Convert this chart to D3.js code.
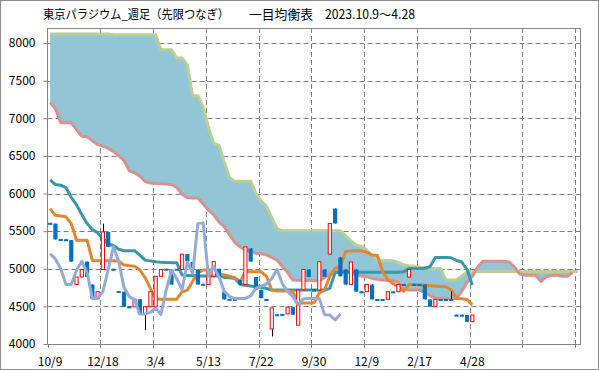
<!DOCTYPE html>
<html>
<head>
<meta charset="utf-8">
<script src="https://cdn.jsdelivr.net/npm/d3@7"></script>
<style>
  body { margin: 0; background: #fff; }
  svg { display: block; }
  text { font-family: "Noto Sans CJK JP", "Noto Sans", sans-serif; fill: #000; }
</style>
</head>
<body>
<svg id="chart"></svg>
<script>
// weekly bars, 2023.10.9 .. 2025.4.28 (81 weeks), chart runs 101 weeks
let tickLabels = ["10/9","12/18","3/4","5/13","7/22","9/30","12/9","2/17","4/28"];
let yTicks = [4000,4500,5000,5500,6000,6500,7000,7500,8000];

let openP  = [5610,5600,5395,5392,5380,4790,4890,5095,4790,4600,4990,5490,5000,4705,4695,4500,4495,4595,4395,4495,
              4495,4900,5000,4990,5000,4990,5195,5090,4990,4800,4790,4900,5000,4695,4600,4600,4850,4790,5270,4890,
              4720,4598,4200,4395,4400,4400,4490,4250,4720,4990,4725,4717,4991,5195,5800,5150,4990,4790,4990,4700,
              4695,4790,4598,4598,4593,4700,4695,4798,4890,4798,4798,4790,4593,4496,4598,4598,4598,4390,4390,4385,4296];
let closeP = [5595,5390,5382,5380,5095,4890,4990,4890,4600,4695,5490,5290,4985,4690,4495,4487,4595,4395,4495,4695,
              4900,4990,4987,4790,4987,5195,5100,4990,4790,4787,4980,5095,4900,4593,4588,4588,4790,5290,5095,4720,
              4610,4586,4480,4383,4388,4490,4390,4717,4990,4890,4713,5093,4894,5602,5602,4900,4790,5090,4695,4688,
              4790,4593,4586,4586,4695,4688,4792,4786,4990,4786,4786,4593,4496,4593,4586,4586,4586,4378,4378,4296,4385];
let highP  = [5610,5600,5395,5392,5380,4890,4990,5095,4790,4695,5600,5490,5000,4705,4695,4500,4595,4595,4495,4695,
              4900,4990,5000,4990,5000,5195,5195,5090,4990,4800,4980,5095,5000,4695,4600,4600,4850,5290,5270,4890,
              4720,4598,4480,4395,4400,4490,4490,4717,4990,4990,4725,5093,4991,5602,5800,5150,4990,5090,4990,4700,
              4790,4790,4598,4598,4695,4700,4792,4798,4990,4798,4798,4790,4593,4593,4598,4598,4700,4390,4390,4385,4385];
let lowP   = [5595,5390,5382,5380,5095,4790,4890,4890,4600,4600,4990,5290,4985,4690,4495,4487,4495,4395,4185,4495,
              4495,4900,4987,4790,4987,4990,5100,4990,4790,4787,4790,4900,4900,4593,4588,4588,4790,4790,5095,4720,
              4610,4586,4100,4383,4388,4400,4390,4250,4720,4890,4713,4717,4894,5195,5602,4900,4790,4790,4695,4688,
              4695,4593,4586,4586,4593,4688,4695,4786,4890,4786,4786,4593,4496,4496,4586,4586,4586,4378,4378,4296,4296];

// 転換線
let tenkan = [5800,5710,5700,5690,5600,5380,5380,5380,5110,5105,5105,5105,5105,5100,5050,5040,5035,4985,4880,4740,
              4600,4595,4595,4595,4595,4695,4715,4830,4950,4982,4982,4982,4930,4916,4900,4880,4830,4960,4960,4960,
              4960,4900,4717,4705,4705,4705,4690,4540,4545,4545,4545,4680,4717,4900,5004,5030,5230,5240,5240,5240,
              5220,5180,5180,4960,4860,4800,4760,4700,4790,4790,4785,4780,4775,4770,4765,4760,4720,4606,4600,4593,4520];
// 基準線
let kijun  = [6180,6120,6110,6080,5950,5850,5720,5602,5520,5480,5400,5330,5310,5260,5240,5240,5240,5180,5115,5105,
              5093,5085,5082,5080,5080,4916,4910,4910,4905,4905,4905,4905,4905,4885,4880,4872,4790,4780,4770,4760,
              4750,4740,4717,4717,4717,4717,4717,4717,4717,4717,4717,4717,4717,4740,4950,4955,4955,4955,4955,4955,
              4955,4955,4955,4955,4955,4955,4955,4960,5004,5004,5004,5004,5030,5150,5150,5150,5145,5110,5090,4990,4783];
// 先行スパン1
let spanA  = [7210,7130,6940,6940,6940,6850,6760,6755,6700,6650,6630,6600,6560,6500,6440,6300,6275,6230,6160,6140,
              6133,6130,6125,6120,6080,5990,5945,5940,5940,5860,5780,5720,5620,5560,5450,5350,5290,5250,5230,5205,
              5200,5185,5150,5115,5030,4950,4850,4848,4845,4843,4842,4841,4880,4930,4960,4965,4970,4945,4916,4905,
              4895,4872,4860,4850,4845,4842,4820,4730,4717,4717,4717,4690,4640,4606,4606,4606,4606,4606,4700,4820,
              4900,5020,5100,5100,5100,5100,5100,5090,5020,4930,4915,4915,4915,4830,4895,4910,4915,4900,4900,4950];
// 先行スパン2
let spanB  = [8120,8120,8120,8120,8120,8120,8120,8120,8120,8120,8120,8120,8110,8110,8110,8110,8110,8110,8110,8110,
              8110,7910,7910,7910,7800,7800,7710,7300,7300,7150,6880,6670,6640,6420,6210,6164,6164,6164,6164,6000,
              5900,5830,5680,5535,5504,5504,5504,5504,5504,5504,5504,5504,5504,5504,5504,5504,5440,5370,5314,5300,
              5250,5180,5115,5112,5110,5106,5080,5050,5040,5035,5025,5018,5010,5005,5004,4850,4850,4850,4900,4960,
              4962,4962,4962,4962,4962,4962,4962,4962,4962,4962,4962,4962,4962,4962,4962,4962,4962,4962,4962,4962,4962];
// 遅行スパン
let chikou = [5200,5130,5000,4790,4790,4980,5100,4950,4606,4606,4700,4990,5290,5100,4750,4630,4590,4400,4400,4420,
              4480,4390,4717,4980,4870,4720,5090,4940,5600,5610,4900,5030,4890,4700,4630,4606,4606,4606,4640,4740,
              4770,4800,4870,4990,4800,4700,4630,4520,4600,4606,4606,4606,4390,4385,4320,4398];

let width = 599, height = 370;
let plot = { left: 47.5, right: 580.5, top: 28, bottom: 344 };
let nCats = 101;

let svg = d3.select("#chart").attr("width", width).attr("height", height);

svg.append("rect")
   .attr("x", 0.5).attr("y", 0.5)
   .attr("width", width - 1).attr("height", height - 1)
   .attr("fill", "#fff").attr("stroke", "#8c8c8c");

let x = d3.scaleBand()
          .domain(d3.range(nCats))
          .range([plot.left, plot.right])
          .padding(0);
let bw = x.bandwidth();
let cx = i => x(i) + bw / 2;

let y = d3.scaleLinear().domain([4000, 8200]).range([plot.bottom, plot.top]);

// title
let title = svg.append("g");
title.append("text").attr("x", 43).attr("y", 19)
     .style("font-size", "12px")
     .attr("textLength", 186).attr("lengthAdjust", "spacingAndGlyphs")
     .text("東京パラジウム_週足（先限つなぎ）");
title.append("text").attr("x", 249).attr("y", 19)
     .style("font-size", "13px")
     .attr("textLength", 64).attr("lengthAdjust", "spacingAndGlyphs")
     .text("一目均衡表");
title.append("text").attr("x", 325).attr("y", 19)
     .style("font-size", "13px")
     .attr("textLength", 90).attr("lengthAdjust", "spacingAndGlyphs")
     .text("2023.10.9～4.28");

// grid
let grid = svg.append("g")
              .attr("stroke", "#7f7f7f")
              .attr("stroke-dasharray", "5,3")
              .attr("stroke-width", 1);
yTicks.filter(v => v > 4000).forEach(v => {
    grid.append("line")
        .attr("x1", plot.left).attr("x2", plot.right)
        .attr("y1", Math.round(y(v)) + 0.5).attr("y2", Math.round(y(v)) + 0.5);
});
let boundaries = d3.range(10, nCats, 10);
boundaries.forEach(k => {
    let gx = Math.round(x(k)) + 0.5;
    grid.append("line")
        .attr("x1", gx).attr("x2", gx)
        .attr("y1", plot.top).attr("y2", plot.bottom);
});

// cloud
let cloudIdx = d3.range(spanA.length);
svg.append("path")
   .datum(cloudIdx)
   .attr("fill", "#92c5d6")
   .attr("d", d3.area()
        .x(i => cx(i))
        .y0(i => y(spanA[i]))
        .y1(i => y(spanB[i])));

function drawLine(values, color, w) {
    svg.append("path")
       .datum(values)
       .attr("fill", "none")
       .attr("stroke", color)
       .attr("stroke-width", w)
       .attr("stroke-linejoin", "round")
       .attr("d", d3.line().x((d, i) => cx(i)).y(d => y(d)));
}

drawLine(spanB, "#bacf93", 3);
drawLine(spanA, "#d8918f", 3);
drawLine(kijun, "#3898a9", 3);
drawLine(tenkan, "#e4862f", 3);

// candles
let cw = 4.2;
let candles = svg.append("g");
openP.forEach((o, i) => {
    let c = closeP[i];
    candles.append("line")
           .attr("x1", Math.round(cx(i)) + 0.5).attr("x2", Math.round(cx(i)) + 0.5)
           .attr("y1", y(highP[i])).attr("y2", y(lowP[i]))
           .attr("stroke", "#000").attr("stroke-width", 1);
    let top = y(Math.max(o, c)), bot = y(Math.min(o, c));
    if (c > o) {
        candles.append("rect")
               .attr("x", cx(i) - cw / 2 + 0.5).attr("y", top)
               .attr("width", cw - 1).attr("height", Math.max(bot - top, 1.5))
               .attr("fill", "#fff").attr("stroke", "#ff0000").attr("stroke-width", 1);
    } else {
        candles.append("rect")
               .attr("x", cx(i) - cw / 2).attr("y", top)
               .attr("width", cw).attr("height", Math.max(bot - top, 2))
               .attr("fill", "#0070c0");
    }
});

drawLine(chikou, "#93abd7", 3);

// axes
let yAxis = d3.axisLeft(y).tickValues(yTicks).tickFormat(d3.format("d")).tickSize(4).tickPadding(8);
let yg = svg.append("g")
   .attr("transform", `translate(${plot.left},0)`)
   .call(yAxis);
yg.select(".domain").remove();
yg.selectAll("line").attr("stroke", "#868686");
yg.selectAll("text").style("font-size", "12px").attr("font-family", null);

let xAxis = d3.axisBottom(x)
              .tickValues(d3.range(0, 81, 10))
              .tickFormat((d, i) => tickLabels[i])
              .tickSize(0);
let xg = svg.append("g")
   .attr("transform", `translate(0,${plot.bottom})`)
   .call(xAxis);
xg.select(".domain").remove();
xg.selectAll("text").style("font-size", "12px").attr("y", 22).attr("dy", 0).attr("font-family", null);

// tick marks at category boundaries
boundaries.concat([0]).forEach(k => {
    let gx = Math.round(x(k)) + 0.5;
    svg.append("line")
       .attr("x1", gx).attr("x2", gx)
       .attr("y1", plot.bottom).attr("y2", plot.bottom + 4)
       .attr("stroke", "#868686");
});

// plot frame
svg.append("rect")
   .attr("x", plot.left).attr("y", plot.top + 0.5)
   .attr("width", plot.right - plot.left).attr("height", plot.bottom - plot.top)
   .attr("fill", "none").attr("stroke", "#868686").attr("stroke-width", 1);
</script>
</body>
</html>
